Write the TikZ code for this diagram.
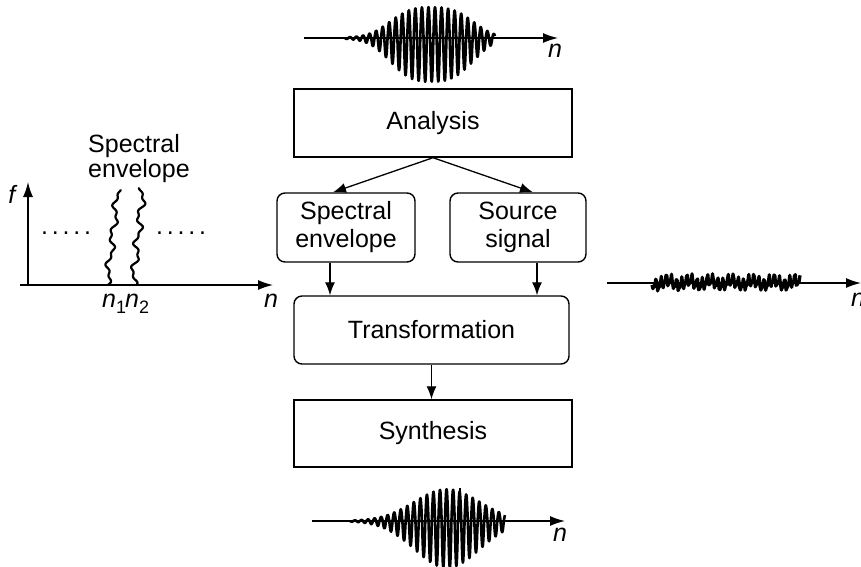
\documentclass[tikz,border=0pt]{standalone}
\usepackage{fontspec}
\setmainfont{Liberation Sans}
\usetikzlibrary{arrows.meta,calc}
\begin{document}
\begin{tikzpicture}[x=1pt,y=-1pt,
  every node/.style={font=\fontsize{25}{28}\selectfont, inner sep=0pt},
  sqbox/.style={draw, line width=1.4pt, align=center},
  rbox/.style={sqbox, rounded corners=8pt},
  arr/.style={line width=1.3pt, -{Latex[length=13pt,width=10pt]}},
  axis/.style={line width=1.4pt, -{Latex[length=15pt,width=10pt]}},
  wave/.style={line width=2.6pt, line join=round},
  wig/.style={line width=2.2pt, line join=round, line cap=round},
]
\useasboundingbox (0,0) rectangle (861,566);

% boxes
\node[sqbox, minimum width=278pt, minimum height=68pt] (an) at (433,123) {Analysis};
\node[rbox, minimum width=138pt, minimum height=69pt] (se) at (346,227.5) {Spectral\\envelope};
\node[rbox, minimum width=136pt, minimum height=69pt] (src) at (518,227.5) {Source\\signal};
\node[rbox, minimum width=275pt, minimum height=68pt] (tr) at (431.5,330) {Transformation};
\node[sqbox, minimum width=278pt, minimum height=67pt] (syn) at (433,433.5) {Synthesis};

% connectors
\draw[arr] (an.south) -- ([xshift=-13pt]se.north);
\draw[arr] (an.south) -- ([xshift=15pt]src.north);
\draw[arr] ([xshift=-16pt]se.south) -- ([xshift=-16pt]se.south |- tr.north);
\draw[arr] ([xshift=19pt]src.south) -- ([xshift=19pt]src.south |- tr.north);
\draw[arr] (tr.south) -- (tr.south |- syn.north);

% top waveform
\coordinate (ta0) at (304,38); \coordinate (ta1) at (558,38);
\draw[axis] (ta0) -- (ta1);
\draw[wave] plot[domain=345:495, samples=450] (\x, {38 + (0.9*exp(-abs((\x-432)/48)^3)+0.1*exp(-((\x-425)/60)^2))*(37.5*sin(55*(\x-345))+6.5*abs(sin(55*(\x-345))))});
\node (tn) at (555,51) {\textit{n}};

% bottom waveform
\coordinate (ba0) at (312,521); \coordinate (ba1) at (565,521);
\draw[axis] (ba0) -- (ba1);
\draw[wave] plot[domain=350:505, samples=450] (\x, {521 + exp(-((\x-447)/46)^2)*(39.5*sin(55*(\x-350))+7.5*abs(sin(55*(\x-350))))});
\draw[wave] (460,521) -- (460,488);
\node (bn) at (560,535) {\textit{n}};

% right noise
\coordinate (ra0) at (607,283); \coordinate (ra1) at (861,283);
\draw[axis] (ra0) -- (ra1);
\draw[line width=3.2pt, line join=round] plot[domain=0:148, samples=160, variable=\t] ({652+\t}, {283 + 5*sin(70*mod(\t,36)) + 3*sin(140*mod(\t,18)+40) + 2.5*sin(17*\t)});
\node (rn) at (858,300) {\textit{n}};

% left spectral plot
\coordinate (lo) at (28,285); \coordinate (lf) at (28,182);
\coordinate (ln0) at (20,285); \coordinate (ln1) at (273,285);
\draw[axis] (lo) -- (lf);
\draw[axis] (ln0) -- (ln1);
\node (lfl) at (13,194) {\textit{f}};
\node (lnl) at (271,301) {\textit{n}};
\draw[wig] plot[domain=0:1, samples=100, variable=\t] ({107+11*\t+2.5*sin(\t*1150+20)+1.5*sin(\t*2900)}, {285-95*\t});
\draw[wig] plot[domain=0:1, samples=100, variable=\t] ({133+10*\t+2.8*sin(\t*1300+60)+1.5*sin(\t*3100+30)}, {285-97*\t});
\node[anchor=base west] (n1) at (102,307) {\textit{n}\raisebox{-6pt}{\fontsize{18}{18}\selectfont 1}};
\node[anchor=base west] (n2) at (125,307) {\textit{n}\raisebox{-6pt}{\fontsize{18}{18}\selectfont 2}};
\node (dl) at (66,233) {.\kern3.8pt.\kern3.8pt.\kern3.8pt.\kern3.8pt.};
\node (dr) at (181,233) {.\kern3.8pt.\kern3.8pt.\kern3.8pt.\kern3.8pt.};
\node[anchor=north west, align=left, font=\fontsize{25}{25.5}\selectfont] (lab) at (88,134) {Spectral\\envelope};
\end{tikzpicture}
\end{document}
